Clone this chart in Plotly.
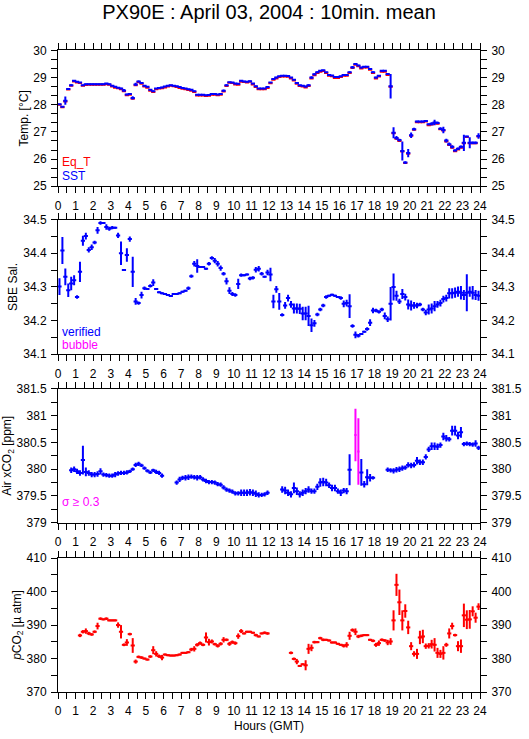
import numpy as np
import plotly.graph_objects as go

N = None
# ---------------- data: 10-minute means, 6 values per hour (hours 0..23) ----------------
sst_rows = [
    [28.02, 27.93, 28.15, 28.58, 28.72, 28.88],
    [28.85, 28.82, 28.72, 28.76, 28.76, 28.76],
    [28.76, 28.76, 28.76, 28.76, 28.78, 28.76],
    [28.70, 28.66, 28.63, 28.60, 28.53, 28.38],
    [28.40, 28.25, 28.75, 28.86, 28.80, 28.70],
    [28.66, 28.55, 28.50, 28.60, 28.62, 28.64],
    [28.67, 28.70, 28.72, 28.70, 28.68, 28.65],
    [28.62, 28.60, 28.57, 28.55, 28.50, 28.37],
    [28.37, 28.37, 28.35, 28.36, 28.40, 28.40],
    [28.38, 28.40, 28.52, 28.72, 28.83, 28.82],
    [28.78, 28.77, 28.88, 28.86, 28.85, 28.87],
    [28.78, 28.68, 28.60, 28.60, 28.60, 28.65],
    [28.82, 28.95, 29.00, 29.05, 29.07, 29.07],
    [29.06, 29.00, 28.92, 28.80, 28.72, 28.70],
    [28.67, 28.72, 29.00, 29.12, 29.20, 29.25],
    [29.27, 29.20, 29.10, 29.08, 29.02, 29.02],
    [29.05, 29.10, 29.10, 29.20, 29.38, 29.50],
    [29.45, 29.37, 29.40, 29.40, 29.32, 29.20],
    [29.00, 29.07, 29.25, 29.25, 29.13, 28.68],
    [26.97, 26.78, 26.70, 26.30, 25.87, 26.22],
    [26.88, 27.10, 27.38, 27.38, 27.38, 27.40],
    [27.28, 27.30, 27.35, 27.33, 27.12, 27.07],
    [26.68, 26.55, 26.45, 26.32, 26.38, 26.45],
    [26.60, 26.83, 26.60, 26.60, 26.60, 26.85],
]
sst_err_rows = [
    [0.02, 0.02, 0.15, 0.03, 0.04, 0.03],
    [0.02, 0.02, 0.02, 0.02, 0.02, 0.02],
    [0.02, 0.02, 0.02, 0.02, 0.02, 0.02],
    [0.02, 0.02, 0.02, 0.03, 0.05, 0.03],
    [0.03, 0.06, 0.06, 0.03, 0.02, 0.02],
    [0.02, 0.03, 0.03, 0.02, 0.02, 0.02],
    [0.02, 0.02, 0.02, 0.02, 0.02, 0.02],
    [0.02, 0.02, 0.02, 0.02, 0.03, 0.02],
    [0.02, 0.02, 0.02, 0.02, 0.02, 0.02],
    [0.02, 0.02, 0.04, 0.04, 0.02, 0.02],
    [0.02, 0.02, 0.02, 0.02, 0.02, 0.02],
    [0.02, 0.03, 0.02, 0.02, 0.02, 0.02],
    [0.02, 0.03, 0.03, 0.02, 0.02, 0.02],
    [0.02, 0.02, 0.02, 0.02, 0.02, 0.02],
    [0.03, 0.04, 0.05, 0.04, 0.03, 0.02],
    [0.02, 0.02, 0.02, 0.02, 0.02, 0.02],
    [0.02, 0.02, 0.02, 0.03, 0.05, 0.03],
    [0.02, 0.03, 0.02, 0.02, 0.03, 0.03],
    [0.03, 0.03, 0.03, 0.02, 0.03, 0.45],
    [0.20, 0.07, 0.05, 0.35, 0.05, 0.15],
    [0.10, 0.05, 0.03, 0.02, 0.03, 0.03],
    [0.03, 0.06, 0.10, 0.05, 0.05, 0.12],
    [0.07, 0.06, 0.06, 0.04, 0.05, 0.05],
    [0.30, 0.03, 0.20, 0.05, 0.05, 0.10],
]
eqt_rows = [
    [28.00, 27.91, 28.12, 28.56, 28.70, 28.86],
    [28.82, 28.80, 28.70, 28.73, 28.74, 28.74],
    [28.74, 28.74, 28.74, 28.74, 28.76, 28.74],
    [28.67, 28.63, 28.61, 28.57, 28.50, 28.35],
    [28.37, 28.22, 28.72, 28.83, 28.77, 28.67],
    [28.63, 28.52, 28.47, 28.57, 28.60, 28.61],
    [28.64, 28.67, 28.70, 28.68, 28.65, 28.62],
    [28.59, 28.57, 28.54, 28.52, 28.47, 28.34],
    [28.34, 28.34, 28.32, 28.33, 28.37, 28.37],
    [28.35, 28.37, 28.49, 28.69, 28.81, 28.80],
    [28.75, 28.74, 28.85, 28.84, 28.82, 28.85],
    [28.75, 28.65, 28.57, 28.57, 28.57, 28.62],
    [28.79, 28.92, 28.97, 29.02, 29.04, 29.04],
    [29.03, 28.97, 28.89, 28.77, 28.69, 28.67],
    [28.64, 28.69, 28.97, 29.09, 29.17, 29.22],
    [29.24, 29.17, 29.07, 29.05, 28.99, 28.99],
    [29.02, 29.07, 29.07, 29.17, 29.35, 29.47],
    [29.42, 29.34, 29.37, 29.37, 29.29, 29.17],
    [28.97, 29.04, 29.22, 29.22, 29.10, 28.66],
    [26.95, 26.75, 26.67, 26.28, 25.86, 26.20],
    [26.86, 27.08, 27.36, 27.36, 27.36, 27.38],
    [27.25, 27.27, 27.32, 27.30, 27.10, 27.05],
    [26.65, 26.52, 26.42, 26.29, 26.35, 26.42],
    [26.58, 26.81, 26.58, 26.58, 26.58, 26.83],
]
sal_rows = [
    [34.301, 34.408, 34.330, 34.290, 34.310, 34.320],
    [34.270, 34.345, 34.437, 34.451, 34.410, 34.418],
    [34.432, 34.468, 34.490, 34.490, 34.478, 34.473],
    [34.476, 34.476, 34.453, 34.400, 34.350, 34.395],
    [34.442, 34.345, 34.257, 34.252, 34.276, 34.296],
    [34.294, 34.303, 34.313, 34.294, 34.284, 34.281],
    [34.279, 34.276, 34.273, 34.279, 34.279, 34.281],
    [34.286, 34.289, 34.296, 34.332, 34.369, 34.362],
    [34.359, 34.359, 34.354, 34.369, 34.386, 34.378],
    [34.369, 34.356, 34.339, 34.317, 34.289, 34.279],
    [34.276, 34.309, 34.335, 34.335, 34.337, 34.325],
    [34.327, 34.351, 34.354, 34.339, 34.330, 34.343],
    [34.337, 34.257, 34.293, 34.257, 34.217, 34.245],
    [34.267, 34.248, 34.236, 34.236, 34.235, 34.221],
    [34.221, 34.214, 34.186, 34.192, 34.218, 34.233],
    [34.245, 34.270, 34.274, 34.277, 34.274, 34.270],
    [34.267, 34.250, 34.252, 34.243, 34.184, 34.158],
    [34.155, 34.160, 34.167, 34.175, 34.194, 34.230],
    [34.230, 34.226, 34.233, 34.214, 34.204, 34.250],
    [34.300, 34.274, 34.257, 34.279, 34.270, 34.248],
    [34.245, 34.245, 34.245, 34.248, 34.233, 34.224],
    [34.233, 34.236, 34.243, 34.248, 34.252, 34.264],
    [34.267, 34.281, 34.281, 34.283, 34.286, 34.283],
    [34.276, 34.283, 34.286, 34.283, 34.276, 34.274],
]
sal_err_rows = [
    [0.025, 0.040, 0.025, 0.020, 0.020, 0.015],
    [0.005, 0.030, 0.015, 0.010, 0.008, 0.008],
    [0.005, 0.010, 0.005, 0.003, 0.008, 0.006],
    [0.005, 0.003, 0.008, 0.035, 0.003, 0.020],
    [0.008, 0.045, 0.010, 0.005, 0.010, 0.005],
    [0.003, 0.005, 0.010, 0.003, 0.003, 0.003],
    [0.003, 0.003, 0.003, 0.003, 0.003, 0.003],
    [0.003, 0.003, 0.005, 0.005, 0.008, 0.020],
    [0.003, 0.003, 0.003, 0.005, 0.005, 0.008],
    [0.008, 0.008, 0.005, 0.010, 0.010, 0.006],
    [0.005, 0.015, 0.005, 0.003, 0.003, 0.005],
    [0.005, 0.008, 0.008, 0.005, 0.003, 0.008],
    [0.020, 0.020, 0.010, 0.025, 0.005, 0.010],
    [0.010, 0.010, 0.015, 0.015, 0.015, 0.020],
    [0.020, 0.030, 0.020, 0.010, 0.005, 0.005],
    [0.005, 0.005, 0.003, 0.003, 0.003, 0.003],
    [0.005, 0.010, 0.010, 0.035, 0.005, 0.010],
    [0.005, 0.003, 0.003, 0.005, 0.010, 0.008],
    [0.005, 0.005, 0.005, 0.010, 0.008, 0.050],
    [0.040, 0.015, 0.008, 0.015, 0.010, 0.015],
    [0.015, 0.010, 0.008, 0.005, 0.005, 0.008],
    [0.015, 0.015, 0.015, 0.010, 0.010, 0.010],
    [0.010, 0.015, 0.015, 0.015, 0.015, 0.020],
    [0.015, 0.055, 0.015, 0.020, 0.015, 0.015],
]
xco2_rows = [
    [N, N, N, N, 379.98, 380.00],
    [379.96, 379.93, 380.17, 379.95, 379.93, 379.90],
    [379.90, 379.91, 379.96, 379.90, 379.89, 379.88],
    [379.88, 379.90, 379.92, 379.93, 379.93, 379.94],
    [379.96, 380.00, 380.08, 380.10, 380.07, 380.02],
    [379.97, 379.94, 379.98, 379.95, 379.93, 379.88],
    [N, N, N, N, 379.75, 379.81],
    [379.84, 379.84, 379.85, 379.86, 379.85, 379.84],
    [379.85, 379.81, 379.78, 379.76, 379.76, 379.75],
    [379.72, 379.71, 379.66, 379.62, 379.60, 379.58],
    [379.55, 379.55, 379.56, 379.56, 379.56, 379.57],
    [379.56, 379.54, 379.52, 379.52, 379.53, 379.56],
    [N, N, N, N, 379.62, 379.60],
    [379.56, 379.53, 379.65, 379.59, 379.53, 379.56],
    [379.59, 379.62, 379.59, 379.59, 379.67, 379.75],
    [379.76, 379.75, 379.70, 379.65, 379.65, 379.59],
    [379.56, 379.60, 379.59, 379.99, N, 380.64],
    [380.33, 379.94, 379.72, 379.85, 379.84, 379.84],
    [N, N, N, N, 379.99, 379.98],
    [379.97, 379.99, 380.00, 380.02, 380.03, 380.08],
    [380.07, 380.08, 380.16, 380.13, 380.13, 380.23],
    [380.37, 380.43, 380.43, 380.42, 380.45, 380.61],
    [380.58, 380.56, 380.72, 380.72, 380.63, 380.69],
    [380.47, 380.48, 380.47, 380.46, 380.48, 380.40],
]
xco2_err_rows = [
    [N, N, N, N, 0.05, 0.05],
    [0.05, 0.05, 0.27, 0.08, 0.05, 0.05],
    [0.05, 0.05, 0.06, 0.04, 0.04, 0.04],
    [0.04, 0.05, 0.04, 0.04, 0.04, 0.04],
    [0.03, 0.03, 0.04, 0.04, 0.03, 0.03],
    [0.03, 0.03, 0.03, 0.04, 0.04, 0.04],
    [N, N, N, N, 0.04, 0.05],
    [0.04, 0.05, 0.05, 0.04, 0.04, 0.05],
    [0.04, 0.04, 0.04, 0.04, 0.04, 0.04],
    [0.04, 0.04, 0.04, 0.04, 0.04, 0.04],
    [0.04, 0.04, 0.06, 0.06, 0.06, 0.06],
    [0.06, 0.06, 0.05, 0.04, 0.04, 0.04],
    [N, N, N, N, 0.06, 0.07],
    [0.06, 0.06, 0.10, 0.07, 0.06, 0.06],
    [0.06, 0.06, 0.05, 0.05, 0.06, 0.08],
    [0.08, 0.07, 0.05, 0.06, 0.06, 0.05],
    [0.06, 0.05, 0.06, 0.29, N, 0.49],
    [0.62, 0.25, 0.06, 0.15, 0.07, 0.03],
    [N, N, N, N, 0.04, 0.04],
    [0.05, 0.05, 0.05, 0.05, 0.04, 0.05],
    [0.05, 0.05, 0.07, 0.05, 0.05, 0.05],
    [0.05, 0.07, 0.07, 0.06, 0.05, 0.07],
    [0.06, 0.04, 0.09, 0.09, 0.07, 0.10],
    [0.04, 0.04, 0.04, 0.04, 0.06, 0.04],
]
pco2_rows = [
    [N, N, N, N, N, N],
    [N, 386.9, 388.0, 388.2, 387.5, 387.2],
    [388.0, 389.7, 391.9, 391.7, 391.9, 391.4],
    [391.4, 391.4, 390.0, 388.0, 384.1, 384.8],
    [387.3, 383.9, 379.1, 380.5, 380.3, 380.0],
    [379.7, 380.6, 382.5, 381.4, 380.7, 380.3],
    [381.2, 381.0, 380.9, 380.9, 381.0, 381.2],
    [381.7, 381.7, 381.9, 382.7, 382.9, 384.1],
    [384.6, 384.1, 386.3, 384.9, 385.1, 384.3],
    [383.8, 384.4, 385.6, 385.6, 384.4, 384.9],
    [384.6, 386.7, 388.2, 387.5, 388.0, 388.0],
    [387.7, 387.0, 386.6, 387.5, 387.7, 387.5],
    [N, N, N, N, N, N],
    [N, 381.7, 379.9, 379.1, 377.8, 378.3],
    [378.0, 382.9, 383.2, 384.9, 384.9, 386.1],
    [385.6, 385.6, 385.4, 384.8, 384.8, 384.4],
    [384.1, 383.8, 384.1, 386.8, 388.5, 388.0],
    [386.6, 386.8, 387.0, 387.0, 385.6, 385.3],
    [384.1, 384.6, 385.6, 385.4, 384.8, 385.1],
    [391.4, 402.0, 396.8, 391.4, 394.2, 389.3],
    [383.7, 381.4, 381.4, 386.3, 386.6, 383.7],
    [383.8, 384.3, 384.1, 381.7, 381.4, 381.7],
    [384.1, 387.5, 389.7, 387.0, 383.7, 383.7],
    [392.9, 391.6, 391.7, 394.1, 392.2, 395.5],
]
pco2_err_rows = [
    [N, N, N, N, N, N],
    [N, 0.5, 0.5, 0.8, 0.5, 0.4],
    [0.4, 1.0, 0.4, 0.3, 0.4, 0.3],
    [0.3, 0.3, 0.8, 2.0, 0.4, 1.0],
    [0.4, 2.2, 0.6, 0.4, 0.4, 0.3],
    [0.3, 0.4, 1.2, 0.8, 0.5, 0.8],
    [0.3, 0.3, 0.3, 0.3, 0.3, 0.3],
    [0.3, 0.3, 0.3, 0.5, 0.8, 0.5],
    [0.5, 0.4, 1.5, 1.0, 0.6, 0.4],
    [0.5, 0.5, 0.8, 0.4, 0.6, 0.5],
    [0.5, 0.8, 0.6, 0.3, 0.3, 0.3],
    [0.3, 0.4, 0.3, 0.3, 0.4, 0.4],
    [N, N, N, N, N, N],
    [N, 0.4, 0.4, 0.8, 0.3, 0.3],
    [1.5, 1.5, 1.0, 0.4, 0.3, 0.4],
    [0.4, 0.3, 0.3, 0.3, 0.3, 0.3],
    [0.3, 0.5, 0.8, 1.2, 0.5, 1.0],
    [0.5, 0.4, 0.3, 0.3, 0.3, 0.4],
    [0.6, 0.8, 0.4, 0.4, 0.8, 1.0],
    [3.0, 3.3, 3.8, 3.0, 2.0, 2.0],
    [1.2, 0.8, 1.5, 2.0, 2.0, 0.8],
    [0.8, 1.3, 2.0, 1.5, 1.2, 2.0],
    [0.6, 1.5, 1.0, 0.4, 1.5, 2.0],
    [3.5, 2.8, 2.8, 1.5, 1.5, 1.0],
]
hour_ticks = list(range(0, 25))
title_text = "PX90E : April 03, 2004 : 10min. mean"


def flat(rows):
    return [v for r in rows for v in r]


n_slots = 24 * 6
hours = [(i + 0.5) / 6 for i in range(n_slots)]
sst, sst_err = flat(sst_rows), flat(sst_err_rows)
eqt = flat(eqt_rows)
sal, sal_err = flat(sal_rows), flat(sal_err_rows)
xco2, xco2_err = flat(xco2_rows), flat(xco2_err_rows)
pco2, pco2_err = flat(pco2_rows), flat(pco2_err_rows)

RED, BLUE, MAG = "#ff0000", "#0000ff", "#ff00ff"
FONT = "Liberation Sans, Arial, sans-serif"

fig = go.Figure()


def cross(x, y, err, color, xa, ya, half=0.12):
    fig.add_trace(go.Scatter(
        x=x, y=y, xaxis=xa, yaxis=ya, mode="markers",
        marker=dict(size=0.1, color=color),
        error_x=dict(type="constant", value=half, width=0, thickness=2, color=color),
        error_y=dict(type="data", array=err, width=0, thickness=2, color=color),
        showlegend=False, hoverinfo="skip"))


cross(hours, eqt, [0.0 for _ in eqt], RED, "x", "y")
cross(hours, sst, sst_err, BLUE, "x", "y")
cross(hours, sal, sal_err, BLUE, "x2", "y2")
xb = [v if (e is not None and e < 0.3) else None for v, e in zip(xco2, xco2_err)]
xm = [v if (e is not None and e >= 0.3) else None for v, e in zip(xco2, xco2_err)]
cross(hours, xb, xco2_err, BLUE, "x3", "y3")
cross(hours, xm, xco2_err, MAG, "x3", "y3", half=0.06)
cross(hours, pco2, pco2_err, RED, "x4", "y4")

# dummy traces so the right-hand overlay axes are drawn
for k in range(5, 9):
    fig.add_trace(go.Scatter(x=[None], y=[None], xaxis="x" if k == 5 else f"x{k-4}",
                             yaxis=f"y{k}", showlegend=False, hoverinfo="skip"))

H = 739
def dom(top, bot):
    return [1 - bot / H, 1 - top / H]

doms = [dom(44.3, 182.7), dom(216.7, 354.0), dom(389.3, 525.7), dom(561.7, 698.3)]
ranges = [[25, 30], [34.1, 34.5], [379, 381.5], [370, 410]]
dticks = [1, 0.1, 0.5, 10]
minors = [1 / 3, 0.05, 0.25, 5]
ytitles = ["Temp. [°C]", "SBE Sal.", "Air xCO<sub>2</sub> [ppm]", "<i>p</i>CO<sub>2</sub> [µ atm]"]
ystand = [2, 3, 6, 2]

tickfont = dict(family=FONT, size=12, color="black")
layout = dict(
    width=529, height=739, paper_bgcolor="white", plot_bgcolor="white",
    margin=dict(l=58, r=49, t=0, b=0),
    font=dict(family=FONT, size=12, color="black"),
    title=dict(text=title_text, x=0.5, xref="paper", y=1 - 12 / H, yanchor="middle",
               font=dict(family=FONT, size=20, color="black")),
)
for i in range(4):
    xs = "xaxis" if i == 0 else f"xaxis{i+1}"
    ys = "yaxis" if i == 0 else f"yaxis{i+1}"
    yname = "y" if i == 0 else f"y{i+1}"
    xname = "x" if i == 0 else f"x{i+1}"
    xa = dict(
        domain=[0, 1], anchor=yname, range=[0, 24], tickvals=hour_ticks,
        ticks="outside", ticklen=6, tickwidth=1, tickcolor="black", ticklabelstandoff=2,
        minor=dict(dtick=0.5, tick0=0, ticks="outside", ticklen=6, tickcolor="black", showgrid=False),
        showline=True, linecolor="black", linewidth=1, mirror="ticks",
        showgrid=False, zeroline=False, tickfont=tickfont, fixedrange=True,
    )
    if i == 3:
        xa["title"] = dict(text="Hours (GMT)", font=dict(family=FONT, size=12), standoff=4)
    layout[xs] = xa
    layout[ys] = dict(
        domain=doms[i], anchor=xname, range=ranges[i], dtick=dticks[i], tick0=ranges[i][0],
        ticks="outside", ticklen=6, tickcolor="black", ticklabelstandoff=2,
        minor=dict(dtick=minors[i], tick0=ranges[i][0], ticks="outside", ticklen=6, tickcolor="black", showgrid=False),
        showline=True, linecolor="black", linewidth=1, mirror=True,
        showgrid=False, zeroline=False, tickfont=tickfont,
        title=dict(text=ytitles[i], font=dict(family=FONT, size=12), standoff=ystand[i]),
    )
    layout[f"yaxis{i+5}"] = dict(
        overlaying=yname, side="right", anchor=xname, range=ranges[i], dtick=dticks[i], tick0=ranges[i][0],
        ticks="outside", ticklen=6, tickcolor="black", ticklabelstandoff=2,
        minor=dict(dtick=minors[i], tick0=ranges[i][0], ticks="outside", ticklen=6, tickcolor="black", showgrid=False),
        showline=False, showgrid=False, zeroline=False, tickfont=tickfont,
    )

fig.update_layout(**layout)

notes = [
    ("Eq_T", RED, "x domain", "y domain", 0.178),
    ("SST", BLUE, "x domain", "y domain", 0.077),
    ("verified", BLUE, "x2 domain", "y2 domain", 0.162),
    ("bubble", MAG, "x2 domain", "y2 domain", 0.066),
    ("σ ≥ 0.3", MAG, "x3 domain", "y3 domain", 0.157),
]
for txt, col, xr, yr, yy in notes:
    fig.add_annotation(text=txt, xref=xr, yref=yr, x=0.004, y=yy, xanchor="left",
                       yanchor="middle", showarrow=False,
                       font=dict(family=FONT, size=12, color=col))

fig.write_html("out.html", config={"displayModeBar": False},
               post_script="document.body.style.margin='0';document.body.style.overflow='hidden';")
